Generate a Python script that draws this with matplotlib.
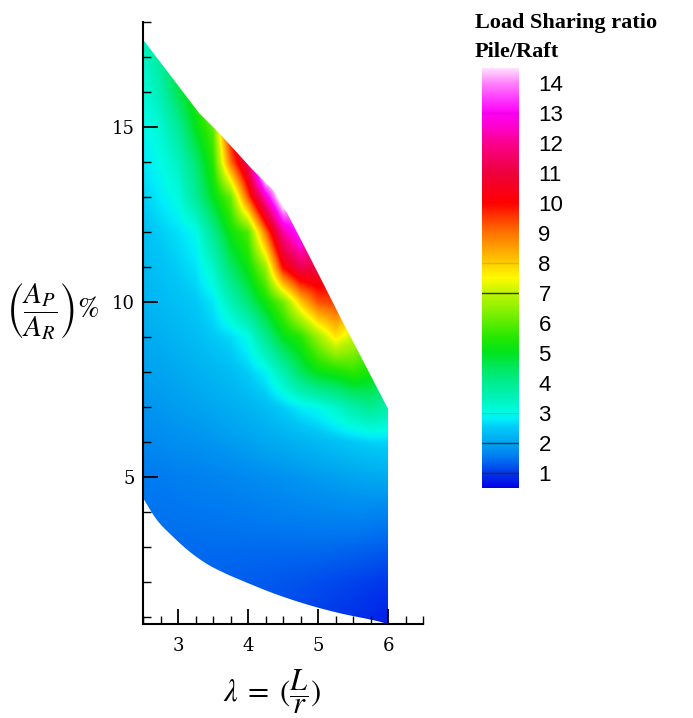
import numpy as np
import matplotlib
matplotlib.use("Agg")
import matplotlib.pyplot as plt
from matplotlib.colors import LinearSegmentedColormap, Normalize
from matplotlib.patches import Polygon
from matplotlib.ticker import MultipleLocator

plt.rcParams['mathtext.fontset'] = 'stix'

# grid of the field: lambda = L/r (columns) and Ap/Ar % (rows)
lam = [2.50, 2.75, 3.00, 3.25, 3.50, 3.75, 4.00, 4.25, 4.50, 4.75, 5.00, 5.25, 5.50, 5.75, 6.00]
area = list(range(0, 19))

# load sharing ratio pile/raft, one row per area value
ratio = [
    [1.50, 1.45, 1.40, 1.38, 1.35, 1.30, 1.25, 1.20, 1.15, 1.05, 1.00, 0.95, 0.90, 0.82, 0.75],   # 0
    [1.50, 1.45, 1.40, 1.38, 1.35, 1.30, 1.25, 1.20, 1.15, 1.10, 1.05, 1.00, 0.95, 0.88, 0.80],   # 1
    [1.50, 1.45, 1.40, 1.38, 1.35, 1.33, 1.30, 1.28, 1.25, 1.22, 1.18, 1.14, 1.10, 1.05, 1.00],   # 2
    [1.50, 1.45, 1.42, 1.42, 1.42, 1.42, 1.42, 1.42, 1.42, 1.42, 1.42, 1.40, 1.38, 1.35, 1.30],   # 3
    [1.50, 1.48, 1.50, 1.52, 1.53, 1.55, 1.57, 1.60, 1.62, 1.64, 1.66, 1.68, 1.70, 1.68, 1.65],   # 4
    [1.55, 1.57, 1.60, 1.62, 1.65, 1.68, 1.72, 1.76, 1.80, 1.85, 1.90, 1.95, 2.00, 2.05, 2.08],   # 5
    [1.70, 1.73, 1.77, 1.80, 1.85, 1.90, 1.97, 2.05, 2.12, 2.20, 2.30, 2.40, 2.50, 2.58, 2.62],   # 6
    [1.83, 1.87, 1.92, 1.98, 2.05, 2.13, 2.22, 2.35, 2.55, 2.80, 2.95, 3.30, 3.70, 4.00, 3.70],   # 7
    [1.95, 2.00, 2.08, 2.15, 2.25, 2.35, 2.55, 2.85, 3.60, 4.50, 5.10, 5.30, 5.60, 5.30, 4.50],   # 8
    [2.08, 2.15, 2.25, 2.35, 2.50, 2.65, 3.00, 4.00, 5.00, 5.50, 6.60, 7.70, 7.00, 6.00, 5.00],   # 9
    [2.20, 2.30, 2.40, 2.50, 2.75, 3.50, 4.30, 5.20, 6.20, 8.00, 9.30, 9.50, 8.50, 7.00, 6.00],   # 10
    [2.30, 2.42, 2.55, 2.72, 3.30, 4.40, 5.20, 6.60, 10.0, 11.3, 11.0, 10.5, 10.0, 9.00, 8.00],   # 11
    [2.40, 2.55, 2.70, 2.95, 4.00, 5.20, 5.90, 9.00, 12.2, 13.5, 12.0, 11.0, 10.0, 9.00, 8.00],   # 12
    [2.55, 2.80, 3.05, 3.90, 5.00, 6.10, 9.30, 12.5, 15.5, 14.0, 13.0, 12.0, 11.0, 10.0, 9.00],   # 13
    [2.75, 3.00, 3.40, 4.30, 5.50, 9.00, 11.5, 17.0, 15.0, 14.0, 13.0, 12.0, 11.0, 10.0, 9.00],   # 14
    [2.90, 3.20, 3.90, 5.00, 6.00, 10.3, 12.0, 13.0, 13.0, 13.0, 12.0, 11.0, 10.0, 9.00, 8.00],   # 15
    [3.10, 3.60, 4.60, 5.50, 7.00, 10.0, 12.0, 12.0, 12.0, 12.0, 11.0, 10.0, 9.00, 8.00, 7.00],   # 16
    [3.30, 3.90, 5.00, 6.00, 7.50, 10.0, 12.0, 12.0, 12.0, 12.0, 11.0, 10.0, 9.00, 8.00, 7.00],   # 17
    [3.50, 4.20, 5.20, 6.50, 8.00, 10.0, 12.0, 12.0, 12.0, 12.0, 11.0, 10.0, 9.00, 8.00, 7.00],   # 18
]

# outline of the computed domain
upper_x = [2.50, 3.30, 3.60, 4.07, 4.36, 4.56, 4.93, 5.31, 6.00]
upper_y = [17.5, 15.4, 14.8, 13.77, 13.2, 12.54, 11.1, 9.6, 6.95]
lower_x = [2.50, 2.70, 2.93, 3.17, 3.41, 3.65, 3.89, 4.36, 4.84, 5.31, 5.79, 6.00]
lower_y = [4.40, 3.77, 3.29, 2.86, 2.52, 2.27, 2.06, 1.68, 1.36, 1.11, 0.91, 0.80]

cbar_ticks = list(range(1, 15))

# tecplot-like rainbow
cmap_nodes = [
    (0.5, (0, 0, 230)), (1.0, (0, 55, 235)), (1.5, (0, 118, 240)), (2.0, (0, 165, 240)),
    (2.5, (0, 200, 246)), (2.8, (0, 238, 250)), (3.0, (0, 252, 228)), (3.5, (0, 242, 185)),
    (4.0, (0, 236, 145)), (4.5, (0, 232, 95)), (5.0, (0, 228, 30)), (5.5, (35, 232, 0)),
    (6.0, (90, 236, 0)), (6.5, (145, 240, 0)), (7.0, (190, 245, 0)), (7.5, (255, 250, 0)),
    (8.0, (255, 205, 0)), (8.5, (255, 160, 0)), (9.0, (255, 115, 0)), (9.5, (255, 60, 0)),
    (10.0, (255, 0, 0)), (11.0, (238, 0, 60)), (12.0, (250, 0, 140)), (12.5, (255, 0, 200)),
    (13.0, (255, 0, 245)), (13.5, (255, 60, 255)), (14.0, (255, 130, 250)), (14.5, (255, 225, 255)),
]
vmin, vmax = 0.5, 14.5
cmap = LinearSegmentedColormap.from_list(
    'tec', [((v - vmin) / (vmax - vmin), tuple(c / 255 for c in rgb)) for v, rgb in cmap_nodes], N=2048)
norm = Normalize(vmin=vmin, vmax=vmax)


def smooth(xs, ys, n=12):
    # catmull-rom through the read boundary points, only to draw a round edge
    p = np.column_stack([xs, ys])
    p = np.vstack([2 * p[0] - p[1], p, 2 * p[-1] - p[-2]])
    out = []
    for i in range(1, len(p) - 2):
        p0, p1, p2, p3 = p[i - 1], p[i], p[i + 1], p[i + 2]
        for t in np.linspace(0, 1, n, endpoint=False):
            out.append(0.5 * ((2 * p1) + (-p0 + p2) * t + (2 * p0 - 5 * p1 + 4 * p2 - p3) * t ** 2
                              + (-p0 + 3 * p1 - 3 * p2 + p3) * t ** 3))
    out.append(p[-2])
    return [tuple(q) for q in out]


fig = plt.figure(figsize=(6.93, 7.18), dpi=100)
ax = fig.add_axes([0.2064, 0.1309, 0.4040, 0.8384])

dx = (lam[1] - lam[0]) / 2
dy = (area[1] - area[0]) / 2
im = ax.imshow(np.array(ratio), origin='lower', aspect='auto', cmap=cmap, norm=norm,
               extent=(lam[0] - dx, lam[-1] + dx, area[0] - dy, area[-1] + dy),
               interpolation='bilinear', interpolation_stage='data')

outline = list(zip(upper_x, upper_y)) + smooth(lower_x, lower_y)[::-1]
clip = Polygon(outline, closed=True, transform=ax.transData, facecolor='none', edgecolor='none')
ax.add_patch(clip)
im.set_clip_path(clip)

ax.set_xlim(2.5, 6.5)
ax.set_ylim(0.8, 18)
for s in ['top', 'right']:
    ax.spines[s].set_visible(False)
for s in ['left', 'bottom']:
    ax.spines[s].set_linewidth(1.5)

ax.xaxis.set_major_locator(MultipleLocator(1))
ax.xaxis.set_minor_locator(MultipleLocator(0.25))
ax.yaxis.set_major_locator(MultipleLocator(5))
ax.yaxis.set_minor_locator(MultipleLocator(1))
ax.tick_params(which='major', direction='in', length=11, width=1.3, labelsize=13)
ax.tick_params(which='minor', direction='in', length=6, width=1.0)
ax.tick_params(axis='x', which='major', pad=9)
ax.tick_params(axis='y', which='major', pad=6)
for lab in ax.get_xticklabels() + ax.get_yticklabels():
    lab.set_family('DejaVu Serif')

fig.text(272 / 693, 1 - 692 / 718, r'$\lambda\;=\;(\dfrac{L}{r})$', fontsize=22,
         ha='center', va='center')
fig.text(53 / 693, 1 - 312 / 718, r'$\left(\dfrac{A_P}{A_R}\right)\%$', fontsize=21,
         ha='center', va='center')

# colour legend
cax = fig.add_axes([0.6955, 0.3203, 0.0534, 0.5850])
cb = fig.colorbar(im, cax=cax, ticks=cbar_ticks)
cb.outline.set_visible(False)
cax.tick_params(length=0, pad=14, labelsize=16)
for lab in cax.get_yticklabels():
    lab.set_family('Liberation Sans')
for v, a in [(1, 0.8), (2, 0.8), (7, 0.9), (3, 0.15), (8, 0.15), (13, 0.15)]:
    cax.axhline(v, color='#222222', lw=1.0, alpha=a)

fig.text(475 / 693, 1 - 28 / 718, 'Load Sharing ratio', fontsize=16, fontweight='bold',
         family='Liberation Serif', va='baseline', ha='left')
fig.text(475 / 693, 1 - 57 / 718, 'Pile/Raft', fontsize=16, fontweight='bold',
         family='Liberation Serif', va='baseline', ha='left')

fig.savefig('out.png', dpi=100)
